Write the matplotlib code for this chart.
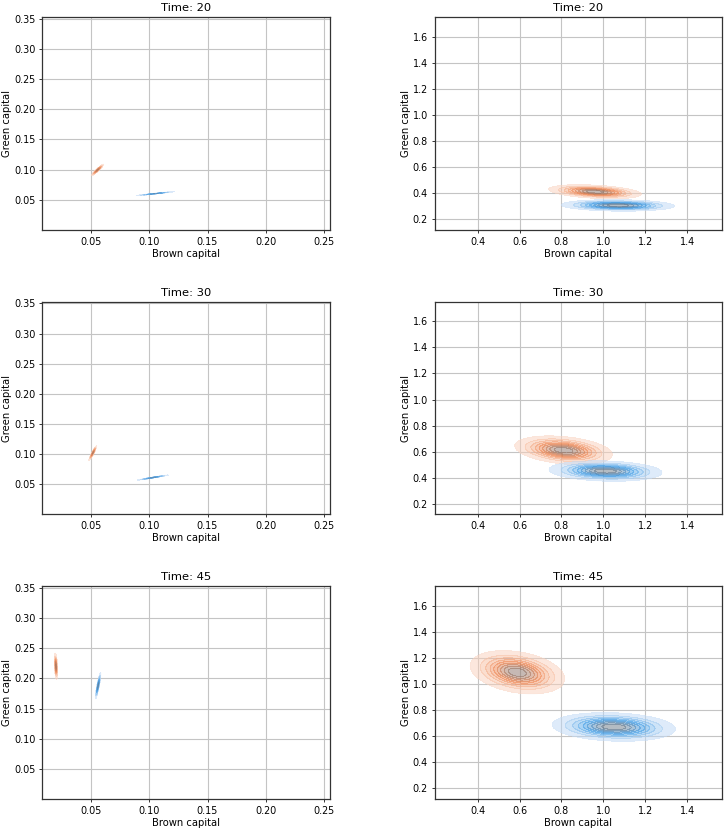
import numpy as np
import matplotlib
matplotlib.use("Agg")
import matplotlib.pyplot as plt
from matplotlib.colors import LinearSegmentedColormap, to_rgb

# snapshot times
times = [20, 30, 45]

# left column: distribution summary (mean x, mean y, std x, std y, corr)
small_orange = [
    [0.0555, 0.0995, 0.0022, 0.0040, 0.96],
    [0.0515, 0.1020, 0.0014, 0.0050, 0.95],
    [0.0198, 0.2200, 0.0006, 0.0090, -0.40],
]
small_blue = [
    [0.1050, 0.0603, 0.0068, 0.0014, 0.98],
    [0.1030, 0.0612, 0.0055, 0.0018, 0.98],
    [0.0560, 0.1880, 0.0010, 0.0090, 0.90],
]

# right column: distribution summary (mean x, mean y, std x, std y, corr)
large_orange = [
    [0.96, 0.410, 0.090, 0.022, -0.35],
    [0.81, 0.610, 0.095, 0.045, -0.30],
    [0.59, 1.090, 0.092, 0.068, -0.30],
]
large_blue = [
    [1.07, 0.305, 0.110, 0.018, -0.10],
    [1.01, 0.450, 0.110, 0.032, -0.15],
    [1.05, 0.670, 0.120, 0.045, -0.15],
]

orange = "#f0844e"
blue = "#3c9be6"

s = 0.69  # text / line scale


def make_cmap(color):
    r, g, b = to_rgb(color)
    light = (1 - 0.25 * (1 - r), 1 - 0.3 * (1 - g), 1 - 0.3 * (1 - b))
    dark = (0.42 + 0.1 * r, 0.40 + 0.1 * g, 0.40 + 0.1 * b)
    return LinearSegmentedColormap.from_list("c", [light, color, dark])


def gauss_density(xx, yy, p):
    mx, my, sx, sy, rho = p
    zx = (xx - mx) / sx
    zy = (yy - my) / sy
    q = (zx ** 2 - 2 * rho * zx * zy + zy ** 2) / (1 - rho ** 2)
    return np.exp(-0.5 * q)


def draw_kde(ax, p, color, xlim, ylim):
    xs = np.linspace(xlim[0], xlim[1], 600)
    ys = np.linspace(ylim[0], ylim[1], 600)
    xx, yy = np.meshgrid(xs, ys)
    zz = gauss_density(xx, yy, p)
    levels = np.linspace(0.05, 1.0, 10)
    cmap = make_cmap(color)
    ax.contourf(xx, yy, zz, levels=levels, cmap=cmap, alpha=0.5, zorder=2)
    ax.contour(xx, yy, zz, levels=levels, cmap=cmap, alpha=0.3,
               linewidths=0.4, zorder=2)


fig, axes = plt.subplots(3, 2, figsize=(7.28, 8.31), dpi=100)
fig.subplots_adjust(left=0.058, right=0.992, top=0.9795, bottom=0.0385,
                    wspace=0.365, hspace=0.336)

left_xlim = (0.008, 0.255)
left_ylim = (0.0, 0.353)
right_xlim = (0.195, 1.567)
right_ylim = (0.116, 1.753)

for i, t in enumerate(times):
    ax = axes[i, 0]
    draw_kde(ax, small_orange[i], orange, left_xlim, left_ylim)
    draw_kde(ax, small_blue[i], blue, left_xlim, left_ylim)
    ax.set_xlim(left_xlim)
    ax.set_ylim(left_ylim)
    ax.set_xticks([0.05, 0.10, 0.15, 0.20, 0.25])
    ax.set_yticks([0.05, 0.10, 0.15, 0.20, 0.25, 0.30, 0.35])

    ax2 = axes[i, 1]
    draw_kde(ax2, large_orange[i], orange, right_xlim, right_ylim)
    draw_kde(ax2, large_blue[i], blue, right_xlim, right_ylim)
    ax2.set_xlim(right_xlim)
    ax2.set_ylim(right_ylim)
    ax2.set_xticks([0.4, 0.6, 0.8, 1.0, 1.2, 1.4])
    ax2.set_yticks([0.2, 0.4, 0.6, 0.8, 1.0, 1.2, 1.4, 1.6])

    for a in (ax, ax2):
        a.set_title("Time: %d" % t, fontsize=12 * s, pad=6 * s)
        a.set_xlabel("Brown capital", fontsize=10.5 * s, labelpad=1.5)
        a.set_ylabel("Green capital", fontsize=10.5 * s, labelpad=1.5)
        a.tick_params(labelsize=10 * s, length=3.5 * s, width=0.8 * s,
                      pad=3.5 * s)
        for sp in a.spines.values():
            sp.set_linewidth(0.9)
            sp.set_color("#333333")
        a.grid(True, color="#c4c4c4", linewidth=0.8, zorder=0)
        a.set_axisbelow(True)

fig.savefig("out.png", dpi=100)
